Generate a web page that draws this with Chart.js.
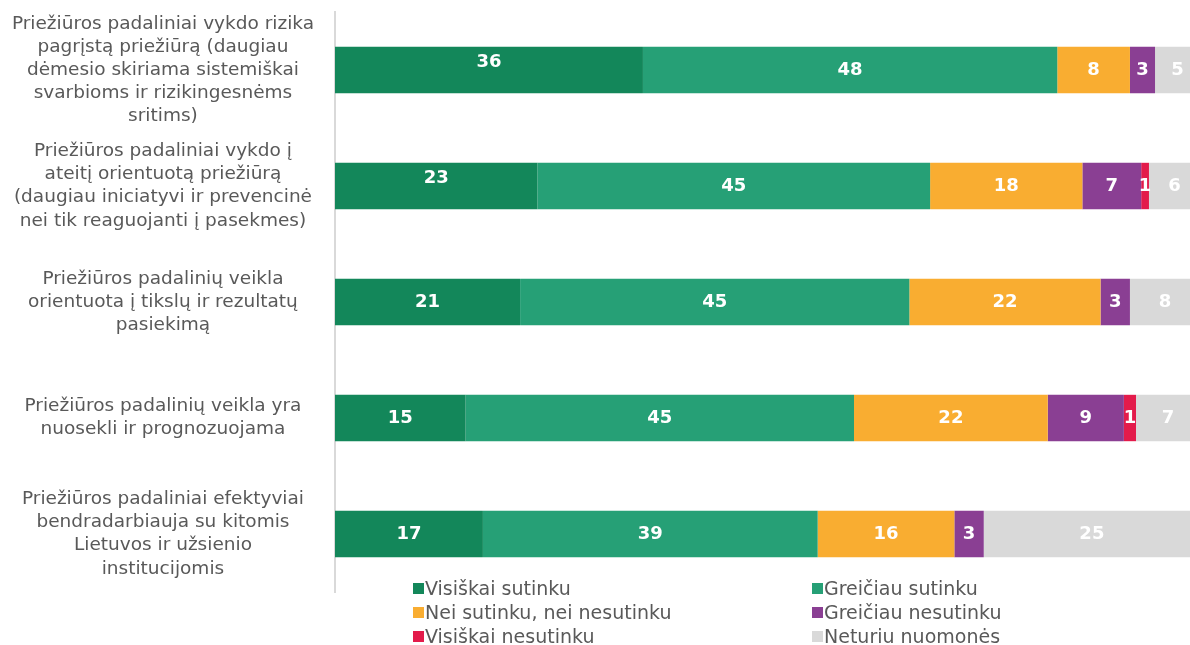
<!DOCTYPE html>
<html>
<head>
<meta charset="utf-8">
<script src="https://cdn.jsdelivr.net/npm/chart.js@4"></script>
<style>
  html, body { margin: 0; padding: 0; background: #fff; overflow: hidden; }
  #wrap { position: absolute; left: 0; top: 0; width: 1200px; height: 600px; }
  #legend {
    position: absolute; left: 413px; top: 577px;
    display: grid; grid-template-columns: 399px 300px; row-gap: 2px;
    font-family: "DejaVu Sans", Verdana, sans-serif; font-size: 19px; color: #595959;
  }
  #legend div { display: flex; align-items: center; height: 22px; white-space: nowrap; }
  #legend span.box { width: 11px; height: 11px; margin-right: 1px; display: inline-block; }
</style>
</head>
<body>
<div id="wrap"><canvas id="myChart"></canvas></div>
<div id="legend"></div>
<script>
const ctx = document.getElementById('myChart'); // canvas for the chart

// Statements (y axis categories), split into lines as in the picture
const categories = [
  ['Priežiūros padaliniai vykdo rizika', 'pagrįstą priežiūrą (daugiau', 'dėmesio skiriama sistemiškai', 'svarbioms ir rizikingesnėms', 'sritims)'],
  ['Priežiūros padaliniai vykdo į', 'ateitį orientuotą priežiūrą', '(daugiau iniciatyvi ir prevencinė', 'nei tik reaguojanti į pasekmes)'],
  ['Priežiūros padalinių veikla', 'orientuota į tikslų ir rezultatų', 'pasiekimą'],
  ['Priežiūros padalinių veikla yra', 'nuosekli ir prognozuojama'],
  ['Priežiūros padaliniai efektyviai', 'bendradarbiauja su kitomis', 'Lietuvos ir užsienio', 'institucijomis']
];

const seriesNames = ['Visiškai sutinku', 'Greičiau sutinku', 'Nei sutinku, nei nesutinku',
  'Greičiau nesutinku', 'Visiškai nesutinku', 'Neturiu nuomonės'];

// Shares (%); labels show them rounded
const visiskaiSutinku    = [35.6, 23.4, 21.4, 15.1, 17.1];
const greiciauSutinku    = [47.9, 45.4, 45.0, 44.9, 38.7];
const neiNei             = [8.4, 17.6, 22.1, 22.4, 15.8];
const greiciauNesutinku  = [2.9, 6.8, 3.4, 8.8, 3.4];
const visiskaiNesutinku  = [0, 0.9, 0, 1.4, 0];
const neturiuNuomones    = [5.2, 5.9, 8.1, 7.4, 25.0];

const colors = ['#13875a', '#26a076', '#f9ad31', '#8a3f93', '#e31b4b', '#d9d9d9'];
const seriesValues = [visiskaiSutinku, greiciauSutinku, neiNei, greiciauNesutinku, visiskaiNesutinku, neturiuNuomones];

const FONT = '"DejaVu Sans", Verdana, sans-serif';

// Draws the white value labels in the middle of each segment
const valueLabels = {
  id: 'valueLabels',
  afterDatasetsDraw(chart) {
    const c = chart.ctx;
    c.save();
    c.font = 'bold 18px ' + FONT;
    c.fillStyle = '#ffffff';
    c.textAlign = 'center';
    c.textBaseline = 'middle';
    chart.data.datasets.forEach((ds, i) => {
      chart.getDatasetMeta(i).data.forEach((bar, j) => {
        const v = ds.data[j];
        if (!v) return;
        const x = (bar.x + bar.base) / 2;
        let y = bar.y;
        if (i === 0 && j < 2) y -= 8; // first two labels sit a bit higher in the original
        c.fillText(Math.round(v), x, y);
      });
    });
    c.restore();
  }
};

const myChart = new Chart(ctx, {
  type: 'bar',
  data: {
    labels: categories,
    datasets: seriesNames.map((name, i) => ({
      label: name,
      data: seriesValues[i],
      backgroundColor: colors[i],
      borderWidth: 0,
      categoryPercentage: 0.4,
      barPercentage: 1
    }))
  },
  options: {
    indexAxis: 'y',
    responsive: true,
    maintainAspectRatio: false,
    animation: false,
    layout: { padding: { top: 12, bottom: 8, left: 0, right: 0 } },
    plugins: {
      legend: { display: false },
      tooltip: { enabled: false }
    },
    scales: {
      x: {
        stacked: true,
        min: 0,
        max: 100,
        display: false
      },
      y: {
        stacked: true,
        grid: { display: false, drawTicks: false },
        border: { display: true, color: '#d9d9d9', width: 2 },
        ticks: {
          autoSkip: false,
          crossAlign: 'center',
          padding: 21,
          color: '#595959',
          font: { family: FONT, size: 18.5, lineHeight: 1.25 }
        },
        afterFit(scale) {
          scale.width = 335;
          scale.paddingTop = 0;    // tall labels must not shrink the plot area
          scale.paddingBottom = 0;
        }
      }
    }
  },
  plugins: [valueLabels]
});

// Two-column legend, built from the series names and colours
const legend = document.getElementById('legend');
seriesNames.forEach((name, i) => {
  const item = document.createElement('div');
  item.innerHTML = '<span class="box" style="background:' + colors[i] + '"></span>' + name;
  legend.appendChild(item);
});
</script>
</body>
</html>
